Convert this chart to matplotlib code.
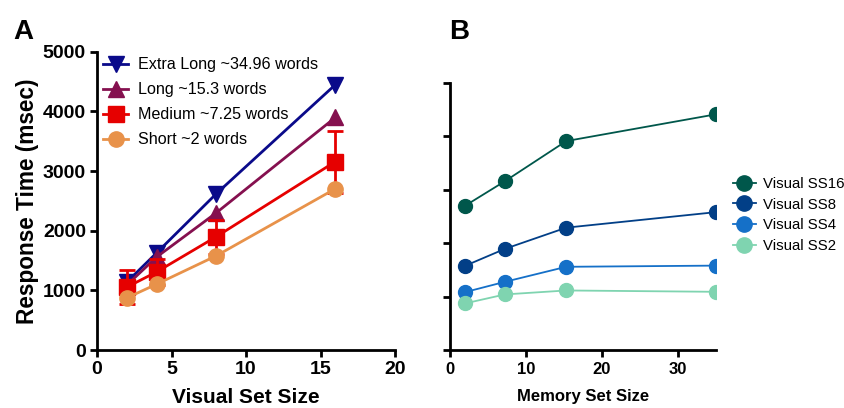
import matplotlib
matplotlib.use("Agg")
import matplotlib.pyplot as plt

plt.rcParams['font.family'] = ['Liberation Sans', 'DejaVu Sans']

# Panel A data
visual_sizes = [2, 4, 8, 16]
series_a_names = ["Extra Long ~34.96 words", "Long ~15.3 words", "Medium ~7.25 words", "Short ~2 words"]
extra_long = [1140, 1630, 2620, 4450]
long_ = [1090, 1560, 2300, 3900]
medium = [1055, 1310, 1900, 3160]
short = [875, 1105, 1580, 2705]
medium_err = [280, 220, 285, 520]

# Panel B data
memory_sizes = [2, 7.25, 15.3, 34.96]
series_b_names = ["Visual SS16", "Visual SS8", "Visual SS4", "Visual SS2"]
ss16 = [2700, 3160, 3910, 4410]
ss8 = [1576, 1894, 2290, 2580]
ss4 = [1084, 1277, 1558, 1580]
ss2 = [873, 1041, 1115, 1090]

fig = plt.figure(figsize=(8.44, 4.08), dpi=100)

# ---------- Panel A ----------
axA = fig.add_axes([0.115, 0.142, 0.353, 0.731])
cA = ['#0a0a8a', '#85104f', '#e60000', '#e8924a']
mA = ['v', '^', 's', 'o']
ysA = [extra_long, long_, medium, short]
handles = []
for i, (name, ys) in enumerate(zip(series_a_names, ysA)):
    if i == 2:
        h = axA.errorbar(visual_sizes, ys, yerr=medium_err, color=cA[i], marker=mA[i],
                         markersize=11, lw=2, capsize=6, capthick=2, elinewidth=2,
                         label=name, zorder=3 + i)
        handles.append(h.lines[0])
    else:
        h, = axA.plot(visual_sizes, ys, color=cA[i], marker=mA[i], markersize=11,
                      lw=2, label=name, zorder=3 + i)
        handles.append(h)
axA.set_xlim(0, 20)
axA.set_ylim(0, 5000)
axA.set_xticks([0, 5, 10, 15, 20])
axA.set_yticks([0, 1000, 2000, 3000, 4000, 5000])
for s in ['top', 'right']:
    axA.spines[s].set_visible(False)
for s in ['left', 'bottom']:
    axA.spines[s].set_linewidth(2)
axA.tick_params(direction='out', length=5, width=2, labelsize=14, pad=3)
for lab in axA.get_xticklabels() + axA.get_yticklabels():
    lab.set_fontweight('bold')
axA.set_ylabel("Response Time (msec)", fontsize=16.3, fontweight='bold', labelpad=3)
axA.set_xlabel("Visual Set Size", fontsize=15, fontweight='bold', labelpad=7)
axA.legend(handles, series_a_names, loc='upper left', bbox_to_anchor=(-0.03, 1.03),
           frameon=False, fontsize=11.6, handlelength=1.6, handletextpad=0.6,
           labelspacing=0.62, markerscale=1.0)
fig.text(0.016, 0.905, "A", fontsize=20, fontweight='bold')

# ---------- Panel B ----------
axB = fig.add_axes([0.533, 0.142, 0.315, 0.655])
cB = ['#00574b', '#023f87', '#1570c8', '#7fd4b0']
ysB = [ss16, ss8, ss4, ss2]
for i, (name, ys) in enumerate(zip(series_b_names, ysB)):
    axB.plot(memory_sizes, ys, color=cB[i], marker='o', markersize=10, lw=1.3,
             label=name, zorder=3 + i)
axB.set_xlim(0, 34.96)
axB.set_ylim(0, 5000)
axB.set_xticks([0, 10, 20, 30])
axB.set_yticks([0, 1000, 2000, 3000, 4000, 5000])
axB.set_yticklabels([])
for s in ['top', 'right']:
    axB.spines[s].set_visible(False)
for s in ['left', 'bottom']:
    axB.spines[s].set_linewidth(2)
axB.tick_params(direction='out', length=5, width=2, labelsize=12)
for lab in axB.get_xticklabels():
    lab.set_fontweight('bold')
axB.set_xlabel("Memory Set Size", fontsize=12, fontweight='bold', labelpad=9)
axB.legend(loc='center left', bbox_to_anchor=(1.02, 0.505), frameon=False,
           fontsize=10.8, handlelength=1.5, handletextpad=0.5, labelspacing=0.45,
           borderaxespad=0.4, markerscale=1.1)
fig.text(0.532, 0.905, "B", fontsize=20, fontweight='bold')

fig.savefig("out.png", dpi=100)
